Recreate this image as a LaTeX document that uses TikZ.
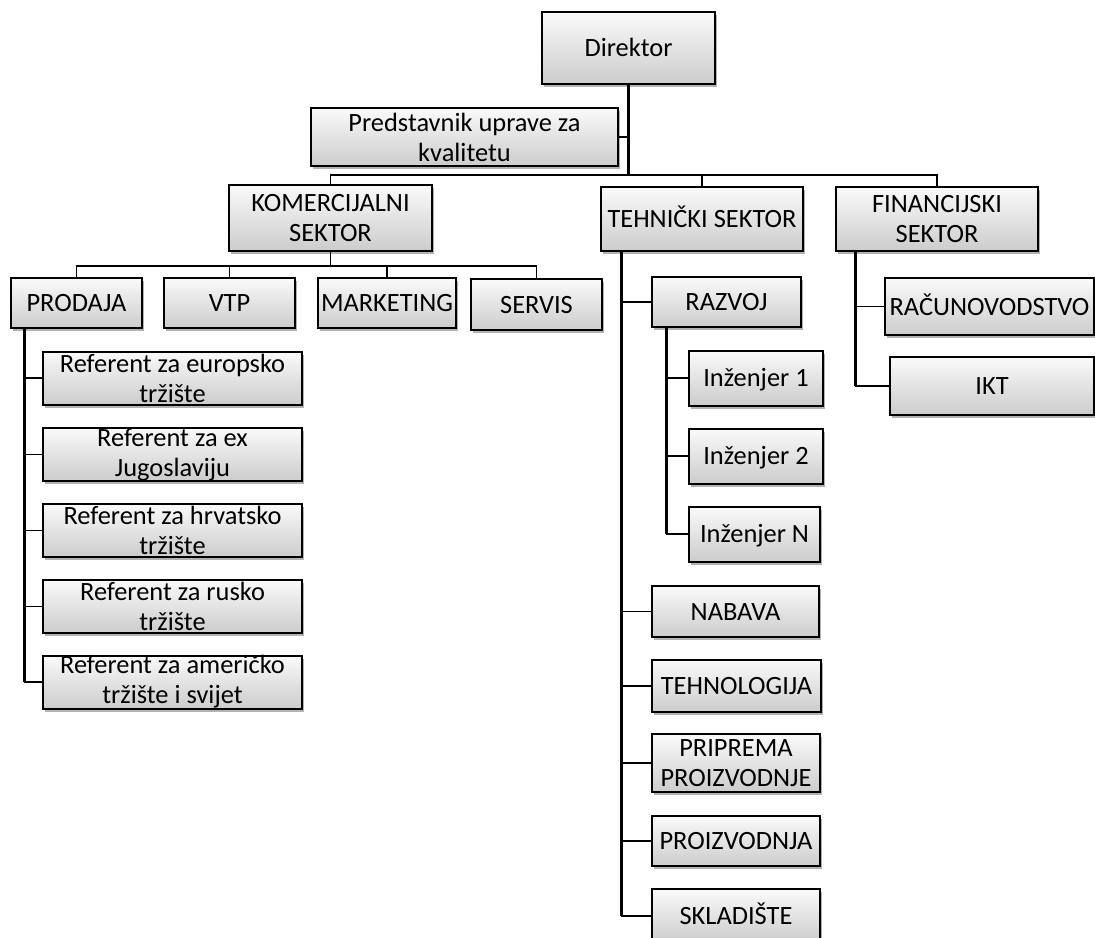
\documentclass[tikz,border=0pt]{standalone}
\usepackage{fontspec}
\setmainfont{Carlito}
\usetikzlibrary{shadows}
\tikzset{
  box/.style={draw=black, line width=1pt, top color=gray!4, bottom color=gray!40,
    align=center, inner sep=0pt, font=\fontsize{13.2}{15}\selectfont,
    drop shadow={shadow xshift=1pt, shadow yshift=-1.6pt, opacity=0.3, fill=black}},
  oneline/.style={text height=10pt, text depth=1.5pt},
  trunk/.style={line width=1.5pt},
  branch/.style={line width=0.9pt},
}
\newcommand{\bx}[6]{\node[box, minimum width={#4*0.5pt}, minimum height={#5*0.5pt}] (#1) at (#2,#3) {#6};}
\newcommand{\bxs}[6]{\node[box, oneline, minimum width={#4*0.5pt}, minimum height={#5*0.5pt}] (#1) at (#2,#3) {#6};}
\begin{document}
\begin{tikzpicture}[x=0.5pt, y=-0.5pt]
\useasboundingbox (0,0) rectangle (1095,937);
% top level
\bxs{dir}{628.5}{48}{173}{72}{Direktor}
\bx{pred}{464.5}{137}{307}{58}{Predstavnik uprave za\\kvalitetu}
\bx{kom}{330.5}{218}{203}{66}{KOMERCIJALNI\\SEKTOR}
\bxs{teh}{702}{219}{202}{64}{TEHNIČKI SEKTOR}
\bx{fin}{937}{219}{202}{64}{FINANCIJSKI\\SEKTOR}
% commercial
\bxs{prodaja}{76.5}{303}{131}{50}{PRODAJA}
\bxs{vtp}{229.5}{303}{131}{50}{VTP}
\bxs{marketing}{387}{303}{138}{50}{MARKETING}
\bxs{servis}{536.5}{304.5}{131}{51}{SERVIS}
\bx{ref1}{172.5}{378}{259}{53}{Referent za europsko\\tržište}
\bx{ref2}{172.5}{454.5}{259}{53}{Referent za ex\\Jugoslaviju}
\bx{ref3}{172.5}{530.5}{259}{53}{Referent za hrvatsko\\tržište}
\bx{ref4}{172.5}{606.5}{259}{53}{Referent za rusko\\tržište}
\bx{ref5}{172.5}{682}{259}{53}{Referent za američko\\tržište i svijet}
% technical
\bxs{razvoj}{726.5}{302}{149}{50}{RAZVOJ}
\bxs{inz1}{756}{378}{134}{55}{Inženjer 1}
\bxs{inz2}{756}{456}{134}{55}{Inženjer 2}
\bxs{inzN}{754.5}{534}{131}{55}{Inženjer N}
\bxs{nabava}{735.5}{611.5}{167}{51}{NABAVA}
\bxs{tehnol}{736.5}{686}{169}{52}{TEHNOLOGIJA}
\bx{priprema}{736}{763}{168}{58}{PRIPREMA\\PROIZVODNJE}
\bxs{proizv}{736}{841}{168}{50}{PROIZVODNJA}
\bxs{sklad}{736}{916}{168}{54}{SKLADIŠTE}
% financial
\bxs{racun}{989.5}{306.5}{209}{57}{RAČUNOVODSTVO}
\bxs{ikt}{992}{386}{204}{58}{IKT}
% connectors top
\coordinate (dbus) at (628.5,175);
\draw[trunk] (dir.south) -- (dbus);
\draw[branch] (pred.east) -- (pred.east -| dbus);
\draw[branch] (kom.north) |- (dbus) -| (fin.north);
\draw[branch] (teh.north) -- (teh.north |- dbus);
% commercial bus
\coordinate (kbus) at (330.5,266);
\draw[branch] (kom.south) -- (kbus);
\draw[branch] (prodaja.north) |- (kbus) -| (servis.north);
\draw[branch] (vtp.north) -- (vtp.north |- kbus);
\draw[branch] (marketing.north) -- (marketing.north |- kbus);
% prodaja column
\coordinate (pt) at ([xshift=7pt]prodaja.south west);
\draw[trunk] (pt) -- (pt |- ref5.west);
\foreach \r in {ref1,ref2,ref3,ref4,ref5}
  \draw[branch] (\r.west) -- (\r.west -| pt);
% technical column
\coordinate (tt) at ([xshift=10.5pt]teh.south west);
\draw[trunk] (tt) -- (tt |- sklad.west);
\foreach \r in {razvoj,nabava,tehnol,priprema,proizv,sklad}
  \draw[branch] (\r.west) -- (\r.west -| tt);
\coordinate (rt) at ([xshift=7.5pt]razvoj.south west);
\draw[trunk] (rt) -- (rt |- inzN.west);
\foreach \r in {inz1,inz2,inzN}
  \draw[branch] (\r.west) -- (\r.west -| rt);
% financial column
\coordinate (ft) at ([xshift=10pt]fin.south west);
\draw[trunk] (ft) -- (ft |- ikt.west);
\foreach \r in {racun,ikt}
  \draw[branch] (\r.west) -- (\r.west -| ft);
\end{tikzpicture}
\end{document}
